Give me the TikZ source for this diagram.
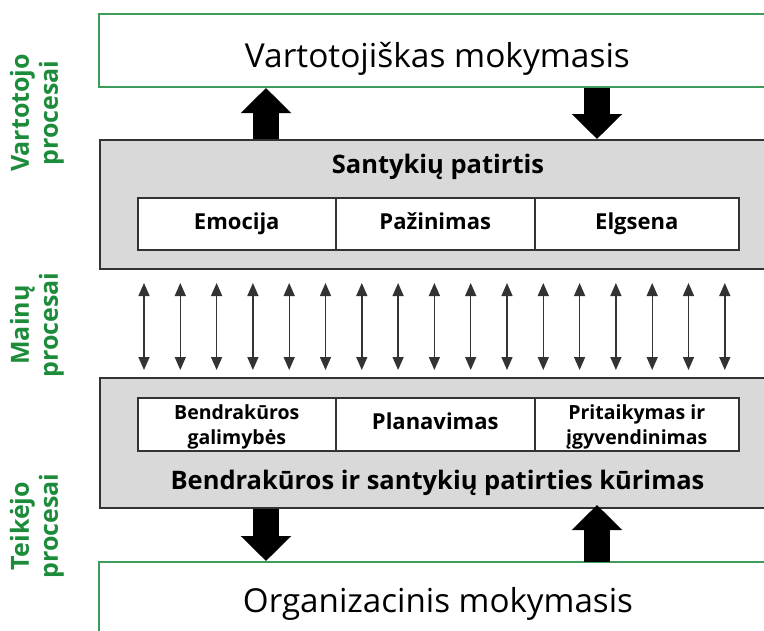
\documentclass[tikz,border=0pt]{standalone}
\usepackage{fontspec}
\setmainfont{Open Sans}
\usetikzlibrary{arrows.meta}
\definecolor{lblgreen}{HTML}{1C8C3A}
\definecolor{boxgreen}{HTML}{3D9B5C}
\definecolor{greyfill}{HTML}{D9D9D9}
\definecolor{edgegrey}{HTML}{333333}
\tikzset{
  greenbox/.style={draw=boxgreen, line width=2pt, fill=white, anchor=north west, inner sep=0pt},
  greybox/.style={draw=edgegrey, line width=2pt, fill=greyfill, anchor=north west, inner sep=0pt},
  cell/.style={draw=edgegrey, line width=1.5pt, fill=white, anchor=north west, inner sep=0pt, text height=16pt, text depth=5pt, font=\bfseries\fontsize{22}{26}\selectfont},
  smalltxt/.style={inner sep=0pt, align=center, font=\bfseries\fontsize{19.5}{25}\selectfont},
  blockarrow/.style={black, line width=26pt, -{Triangle[width=49pt,length=25pt]}},
  dblarrow/.style={edgegrey, line width=1.4pt, {Triangle[width=11pt,length=13pt]}-{Triangle[width=11pt,length=13pt]}},
  sidelabel/.style={text=lblgreen, rotate=90, align=center, font=\bfseries\fontsize{25}{29}\selectfont, inner sep=0pt},
  bigtitle/.style={anchor=base, inner sep=0pt, font=\fontsize{33}{38}\selectfont},
  boldtitle/.style={anchor=base, inner sep=0pt, font=\bfseries\fontsize{25.5}{30}\selectfont}
}
\begin{document}
\begin{tikzpicture}[x=1pt,y=-1pt]
\clip (0,0) rectangle (764,630);
\fill[white] (0,0) rectangle (764,630);

% outer boxes
\node[greenbox, minimum width=690pt, minimum height=73pt] (top) at (98,13) {};
\node[greenbox, minimum width=690pt, minimum height=100pt] (bottom) at (98,561) {};
\node[bigtitle] (toptxt) at (437.5,67) {\resizebox{385pt}{\height}{Vartotojiškas mokymasis}};
\node[bigtitle] (bottxt) at (438,612) {\resizebox{390pt}{\height}{Organizacinis mokymasis}};

% grey boxes
\node[greybox, minimum width=690pt, minimum height=129pt] (g1) at (99,139) {};
\node[greybox, minimum width=690pt, minimum height=130pt] (g2) at (99,377) {};

\node[boldtitle] (g1t) at (438,173) {Santykių patirtis};
\node[boldtitle] (g2t) at (437.5,489) {Bendrakūros ir santykių patirties kūrimas};

% cells row 1
\node[cell, minimum width=198pt, minimum height=52pt] (c11) at (137,197) {Emocija};
\node[cell, minimum width=199pt, minimum height=52pt] (c12) at (335,197) {Pažinimas};
\node[cell, minimum width=204pt, minimum height=52pt] (c13) at (534,197) {Elgsena};
% cells row 2
\node[cell, minimum width=198pt, minimum height=53pt] (c21) at (137,397) {};
\node[cell, minimum width=199pt, minimum height=53pt] (c22) at (335,397) {Planavimas};
\node[cell, minimum width=204pt, minimum height=53pt] (c23) at (534,397) {};
\node[smalltxt] (t21) at ([yshift=-3pt]c21.center) {Bendrakūros\\galimybės};
\node[smalltxt] (t23) at ([yshift=-3pt]c23.center) {Pritaikymas ir\\įgyvendinimas};

% block arrows
\coordinate (la) at (266,0);
\coordinate (ra) at (597,0);
\draw[blockarrow] (la |- g1.north) -- (la |- top.south);
\draw[blockarrow] (ra |- top.south) -- (ra |- g1.north);
\draw[blockarrow] (la |- g2.south) -- (la |- bottom.north);
\draw[blockarrow] ([yshift=-1pt]ra |- bottom.north) -- ([yshift=4pt]ra |- g2.south);

% exchange arrows
\foreach \i in {0,...,16}{
  \coordinate (d\i) at ({144+\i*36.3},0);
  \draw[dblarrow, shorten <=13pt, shorten >=7pt] (d\i |- g1.south) -- (d\i |- g2.north);
}

% side labels
\node[sidelabel] (s1) at (37,113) {Vartotojo\\procesai};
\node[sidelabel] (s2) at (37,325) {Mainų\\procesai};
\node[sidelabel] (s3) at (37,526) {Teikėjo\\procesai};
\end{tikzpicture}
\end{document}
